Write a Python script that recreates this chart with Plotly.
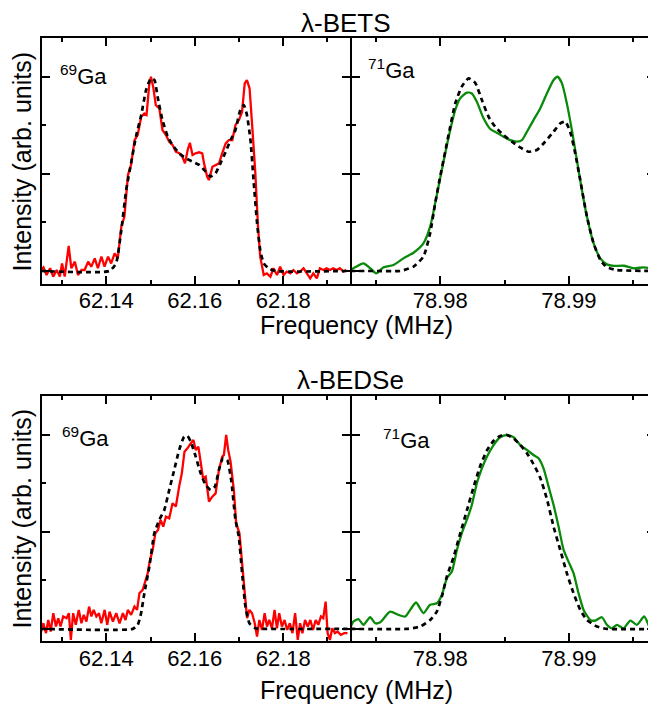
import plotly.graph_objects as go

# ---------------- data (normalised NMR intensities) ----------------
# lambda-BETS, 69Ga
bets69_f = [62.1252, 62.1258, 62.1265, 62.1273, 62.1280, 62.1288, 62.1295, 62.1300, 62.1306, 62.1315,
            62.1321, 62.1329, 62.1336, 62.1344, 62.1351, 62.1359, 62.1366, 62.1374, 62.1381, 62.1389,
            62.1396, 62.1404, 62.1411, 62.1419, 62.1426, 62.1434, 62.1441, 62.1449, 62.1456, 62.1464,
            62.1471, 62.1479, 62.1486, 62.1491, 62.1497, 62.1501, 62.1506, 62.1512, 62.1520, 62.1527,
            62.1535, 62.1542, 62.1550, 62.1557, 62.1565, 62.1572, 62.1578, 62.1584, 62.1589, 62.1595,
            62.1602, 62.1610, 62.1617, 62.1621, 62.1628, 62.1632, 62.1640, 62.1647, 62.1655, 62.1662,
            62.1670, 62.1677, 62.1685, 62.1692, 62.1700, 62.1707, 62.1713, 62.1718, 62.1724, 62.1730,
            62.1737, 62.1743, 62.1748, 62.1756, 62.1763, 62.1771, 62.1778, 62.1786, 62.1793, 62.1801,
            62.1808, 62.1816, 62.1823, 62.1831, 62.1838, 62.1846, 62.1853, 62.1861, 62.1868, 62.1876,
            62.1883, 62.1891, 62.1898, 62.1906, 62.1913, 62.1921, 62.1928, 62.1936, 62.1943]
bets69_i = [0.005, 0.019, -0.021, 0.014, -0.029, 0.005, -0.029, 0.039, -0.029, 0.129,
            0.014, 0.048, -0.021, 0.005, 0.005, 0.048, 0.022, 0.065, 0.014, 0.074,
            0.022, 0.074, 0.039, 0.091, 0.065, 0.228, 0.280, 0.494, 0.546, 0.674,
            0.700, 0.794, 0.811, 0.803, 0.957, 1.000, 0.949, 0.854, 0.837, 0.726,
            0.700, 0.666, 0.648, 0.614, 0.606, 0.588, 0.554, 0.623, 0.660, 0.597,
            0.606, 0.611, 0.606, 0.554, 0.486, 0.468, 0.537, 0.546, 0.554, 0.606,
            0.657, 0.674, 0.674, 0.751, 0.777, 0.820, 0.966, 0.983, 0.940, 0.743,
            0.503, 0.228, 0.074, -0.021, -0.012, -0.029, 0.014, -0.021, 0.022, -0.021,
            -0.003, -0.012, 0.005, -0.012, -0.003, 0.014, -0.012, -0.038, -0.012, -0.038,
            0.014, 0.005, 0.014, 0.005, 0.014, 0.005, 0.014, -0.003, 0.005]
bets69_fit_f = [62.1252, 62.1407, 62.1422, 62.1434, 62.1445, 62.1456, 62.1467, 62.1479, 62.1490, 62.1501,
                62.1509, 62.1516, 62.1527, 62.1539, 62.1550, 62.1565, 62.1580, 62.1595, 62.1610, 62.1625,
                62.1636, 62.1647, 62.1658, 62.1670, 62.1681, 62.1692, 62.1703, 62.1711, 62.1718, 62.1726,
                62.1733, 62.1741, 62.1748, 62.1756, 62.1767, 62.1782, 62.1943]
bets69_fit_i = [0.0, 0.0, 0.039, 0.211, 0.417, 0.554, 0.691, 0.803, 0.932, 0.992,
                0.983, 0.897, 0.777, 0.691, 0.648, 0.606, 0.580, 0.563, 0.546, 0.511,
                0.486, 0.503, 0.554, 0.614, 0.674, 0.726, 0.829, 0.854, 0.803, 0.674,
                0.468, 0.245, 0.108, 0.039, 0.014, 0.0, 0.0]

# lambda-BETS, 71Ga
bets71_f = [78.97300, 78.97339, 78.97404, 78.97456, 78.97503, 78.97560, 78.97637, 78.97715, 78.97793, 78.97870,
            78.97922, 78.97961, 78.98000, 78.98039, 78.98078, 78.98117, 78.98155, 78.98207, 78.98246, 78.98285,
            78.98337, 78.98389, 78.98440, 78.98492, 78.98544, 78.98596, 78.98635, 78.98674, 78.98725, 78.98777,
            78.98829, 78.98881, 78.98912, 78.98946, 78.98984, 78.99023, 78.99062, 78.99101, 78.99140, 78.99192,
            78.99244, 78.99295, 78.99347, 78.99425, 78.99503, 78.99580, 78.99632, 78.99679]
bets71_i = [0.005, 0.019, 0.039, 0.014, -0.012, 0.019, 0.031, 0.065, 0.094, 0.142,
            0.228, 0.348, 0.477, 0.606, 0.726, 0.829, 0.889, 0.918, 0.914, 0.871,
            0.786, 0.731, 0.712, 0.691, 0.674, 0.666, 0.674, 0.717, 0.777, 0.837,
            0.914, 0.983, 1.000, 0.966, 0.863, 0.726, 0.571, 0.417, 0.280, 0.142,
            0.065, 0.034, 0.026, 0.027, 0.014, 0.019, 0.014, 0.005]
bets71_fit_f = [78.97300, 78.97508, 78.97689, 78.97793, 78.97870, 78.97922, 78.97961, 78.98000, 78.98039, 78.98078,
                78.98117, 78.98168, 78.98220, 78.98272, 78.98324, 78.98376, 78.98427, 78.98492, 78.98557, 78.98622,
                78.98687, 78.98751, 78.98816, 78.98881, 78.98933, 78.98972, 78.99010, 78.99049, 78.99088, 78.99140,
                78.99192, 78.99244, 78.99295, 78.99373, 78.99679]
bets71_fit_i = [0.0, 0.0, 0.0, 0.022, 0.074, 0.194, 0.348, 0.486, 0.614, 0.743,
                0.863, 0.949, 0.992, 0.969, 0.880, 0.794, 0.743, 0.700, 0.666, 0.636,
                0.614, 0.623, 0.666, 0.717, 0.760, 0.769, 0.717, 0.606, 0.468, 0.280,
                0.142, 0.057, 0.019, 0.005, 0.0]

# lambda-BEDSe, 69Ga
bedse69_f = [62.12517, 62.12577, 62.12637, 62.12689, 62.12742, 62.12802, 62.12862, 62.12914, 62.12966, 62.13026,
             62.13101, 62.13154, 62.13199, 62.13251, 62.13311, 62.13378, 62.13438, 62.13491, 62.13551, 62.13611,
             62.13663, 62.13715, 62.13775, 62.13835, 62.13888, 62.13963, 62.14022, 62.14075, 62.14150, 62.14225,
             62.14300, 62.14375, 62.14434, 62.14487, 62.14562, 62.14637, 62.14697, 62.14749, 62.14824, 62.14884,
             62.14936, 62.14989, 62.15049, 62.15109, 62.15169, 62.15228, 62.15288, 62.15348, 62.15423, 62.15498,
             62.15573, 62.15648, 62.15708, 62.15768, 62.15835, 62.15910, 62.15970, 62.16022, 62.16082, 62.16127,
             62.16187, 62.16247, 62.16322, 62.16397, 62.16472, 62.16547, 62.16622, 62.16659, 62.16711, 62.16756,
             62.16809, 62.16884, 62.16936, 62.17011, 62.17071, 62.17131, 62.17183, 62.17236, 62.17296, 62.17356,
             62.17408, 62.17461, 62.17521, 62.17580, 62.17633, 62.17685, 62.17745, 62.17805, 62.17858, 62.17910,
             62.17970, 62.18030, 62.18090, 62.18150, 62.18209, 62.18269, 62.18329, 62.18382, 62.18434, 62.18494,
             62.18554, 62.18614, 62.18674, 62.18734, 62.18794, 62.18854, 62.18906, 62.18959, 62.19004, 62.19056,
             62.19109, 62.19169, 62.19229, 62.19303, 62.19378, 62.19453]
bedse69_i = [-0.022, 0.029, -0.022, 0.046, -0.014, 0.081, 0.012, 0.055, 0.012, 0.064,
             0.055, 0.081, -0.057, 0.081, 0.021, 0.098, 0.029, 0.072, 0.038, 0.115,
             0.064, 0.098, 0.064, 0.081, 0.029, 0.098, 0.021, 0.089, 0.038, 0.081,
             0.029, 0.081, 0.046, 0.098, 0.072, 0.115, 0.098, 0.184, 0.201, 0.253,
             0.287, 0.356, 0.407, 0.493, 0.510, 0.562, 0.527, 0.579, 0.570, 0.648,
             0.631, 0.734, 0.802, 0.914, 0.931, 0.957, 0.974, 0.923, 0.940, 0.871,
             0.777, 0.785, 0.656, 0.682, 0.699, 0.820, 0.888, 0.897, 1.000, 0.923,
             0.863, 0.716, 0.545, 0.493, 0.321, 0.184, 0.055, 0.098, 0.081, 0.029,
             -0.040, 0.046, -0.005, 0.081, 0.012, 0.046, 0.003, 0.098, 0.003, 0.081,
             0.012, 0.046, -0.005, 0.029, -0.022, 0.081, -0.057, 0.029, -0.022, 0.046,
             0.012, 0.046, -0.005, 0.046, 0.021, 0.064, 0.055, 0.141, -0.022, -0.057,
             0.003, -0.022, -0.014, -0.031, -0.022, -0.022]
bedse69_fit_f = [62.12517, 62.14599, 62.14712, 62.14787, 62.14861, 62.14974, 62.15086, 62.15198, 62.15311, 62.15423,
                 62.15536, 62.15648, 62.15760, 62.15835, 62.15910, 62.16022, 62.16135, 62.16247, 62.16360, 62.16457,
                 62.16547, 62.16637, 62.16734, 62.16824, 62.16921, 62.16996, 62.17071, 62.17146, 62.17236, 62.17371,
                 62.17596, 62.19453]
bedse69_fit_i = [0.0, 0.0, 0.021, 0.081, 0.184, 0.321, 0.493, 0.562, 0.613, 0.716,
                 0.820, 0.923, 0.991, 0.995, 0.966, 0.888, 0.802, 0.742, 0.716, 0.734,
                 0.820, 0.880, 0.871, 0.768, 0.562, 0.476, 0.287, 0.115, 0.029, 0.003,
                 0.0, 0.0]

# lambda-BEDSe, 71Ga
bedse71_f = [78.97300, 78.97326, 78.97365, 78.97404, 78.97456, 78.97495, 78.97534, 78.97611, 78.97676, 78.97728,
             78.97767, 78.97813, 78.97870, 78.97922, 78.97974, 78.98013, 78.98052, 78.98091, 78.98130, 78.98168,
             78.98207, 78.98246, 78.98285, 78.98324, 78.98363, 78.98415, 78.98466, 78.98518, 78.98570, 78.98622,
             78.98674, 78.98725, 78.98764, 78.98803, 78.98842, 78.98881, 78.98920, 78.98959, 78.98997, 78.99036,
             78.99075, 78.99114, 78.99166, 78.99205, 78.99257, 78.99295, 78.99334, 78.99373, 78.99425, 78.99477,
             78.99528, 78.99585, 78.99632, 78.99679]
bedse71_i = [0.003, 0.038, 0.050, 0.021, 0.060, 0.029, 0.034, 0.089, 0.072, 0.064,
             0.098, 0.136, 0.081, 0.124, 0.132, 0.175, 0.261, 0.296, 0.407, 0.493,
             0.562, 0.639, 0.751, 0.828, 0.888, 0.948, 0.988, 1.000, 0.988, 0.948,
             0.923, 0.897, 0.880, 0.828, 0.734, 0.639, 0.527, 0.407, 0.347, 0.287,
             0.184, 0.098, 0.046, 0.043, 0.060, 0.021, 0.003, 0.021, 0.003, 0.043,
             0.021, 0.064, 0.003, -0.019]
bedse71_fit_f = [78.97300, 78.97741, 78.97845, 78.97922, 78.97974, 78.98013, 78.98052, 78.98104, 78.98155, 78.98207,
                 78.98259, 78.98311, 78.98363, 78.98415, 78.98466, 78.98518, 78.98570, 78.98622, 78.98674, 78.98725,
                 78.98777, 78.98829, 78.98881, 78.98933, 78.98984, 78.99036, 78.99088, 78.99140, 78.99218, 78.99295,
                 78.99679]
bedse71_fit_i = [0.0, 0.0, 0.012, 0.046, 0.089, 0.167, 0.270, 0.370, 0.490, 0.610,
                 0.730, 0.840, 0.920, 0.970, 0.995, 1.000, 0.983, 0.948, 0.906, 0.850,
                 0.780, 0.670, 0.527, 0.407, 0.287, 0.184, 0.098, 0.046, 0.012, 0.0,
                 0.0]

titles = ["λ-BETS", "λ-BEDSe"]
isotopes = ["<sup>69</sup>Ga", "<sup>71</sup>Ga"]
x_title = "Frequency (MHz)"
y_title = "Intensity (arb. units)"

# ---------------- styling ----------------
PAGE_OFF = 8            # default body margin of the html page
W, H = 656 - PAGE_OFF, 706 - PAGE_OFF
FONT = "Liberation Sans, Arial, Helvetica, sans-serif"
RED = "#ff0000"
GREEN = "#0a8a0a"


def px(x):   # page pixel -> paper
    return (x - PAGE_OFF) / W


def py(y):
    return 1 - (y - PAGE_OFF) / H


fig = go.Figure()

panels = [
    (bets69_f, bets69_i, bets69_fit_f, bets69_fit_i, "x", "y", RED, "linear"),
    (bets71_f, bets71_i, bets71_fit_f, bets71_fit_i, "x2", "y2", GREEN, "spline"),
    (bedse69_f, bedse69_i, bedse69_fit_f, bedse69_fit_i, "x3", "y3", RED, "linear"),
    (bedse71_f, bedse71_i, bedse71_fit_f, bedse71_fit_i, "x4", "y4", GREEN, "spline"),
]
for f, i, ff, fi, xa, ya, col, shape in panels:
    fig.add_trace(go.Scatter(x=f, y=i, mode="lines", xaxis=xa, yaxis=ya,
                             line=dict(color=col, width=2.3, shape=shape, smoothing=0.6),
                             showlegend=False, hoverinfo="skip"))
    fig.add_trace(go.Scatter(x=ff, y=fi, mode="lines", xaxis=xa, yaxis=ya,
                             line=dict(color="black", width=2.7, dash="5px,4px", shape="spline", smoothing=0.5),
                             showlegend=False, hoverinfo="skip"))

common = dict(showline=True, linecolor="black", linewidth=2, mirror="allticks",
              ticks="inside", ticklen=8, tickwidth=2, tickcolor="black",
              showgrid=False, zeroline=False)
tickfont = dict(family=FONT, size=22, color="black")

# page-pixel positions of the data areas (inside the frame lines)
xl = [41.7, 350.0]
xr = [352.0, 654.5]
row_top = [38.3, 284.0]
row_bot = [396.0, 641.3]


def xaxis_left(anchor):
    return dict(common, domain=[px(xl[0]), px(xl[1])], anchor=anchor,
                range=[62.1254, 62.1951], tick0=62.14, dtick=0.02, tickformat=".2f",
                tickfont=tickfont, ticklabelstandoff=-4,
                minor=dict(ticks="inside", ticklen=4, tickwidth=2, tickcolor="black",
                           tick0=62.13, dtick=0.01, showgrid=False))


def xaxis_right(anchor):
    return dict(common, domain=[px(xr[0]), px(xr[1])], anchor=anchor,
                range=[78.97315, 78.99665], tick0=78.98, dtick=0.01, tickformat=".2f",
                tickfont=tickfont, ticklabelstandoff=-4,
                minor=dict(ticks="inside", ticklen=4, tickwidth=2, tickcolor="black",
                           tick0=78.975, dtick=0.005, showgrid=False))


def yaxis(anchor, row, rng):
    return dict(common, domain=[py(row[1]), py(row[0])], anchor=anchor, range=rng,
                tick0=0, dtick=0.5, showticklabels=False,
                minor=dict(ticks="inside", ticklen=4, tickwidth=2, tickcolor="black",
                           tick0=0, dtick=0.25, showgrid=False))


fig.update_layout(
    width=W, height=H,
    margin=dict(l=0, r=0, t=0, b=0),
    paper_bgcolor="white", plot_bgcolor="white",
    font=dict(family=FONT, color="black", size=22),
    xaxis=xaxis_left("y"),
    xaxis2=xaxis_right("y2"),
    xaxis3=xaxis_left("y3"),
    xaxis4=xaxis_right("y4"),
    yaxis=yaxis("x", row_top, [-0.067, 1.198]),
    yaxis2=yaxis("x2", row_top, [-0.067, 1.198]),
    yaxis3=yaxis("x3", row_bot, [-0.064, 1.201]),
    yaxis4=yaxis("x4", row_bot, [-0.064, 1.201]),
)

ann = []
# panel titles
ann.append(dict(text=titles[0], x=px(346), y=py(23), font=dict(size=26)))
ann.append(dict(text=titles[1], x=px(350), y=py(380), font=dict(size=26)))
# x-axis titles
ann.append(dict(text=x_title, x=px(356), y=py(325), font=dict(size=25)))
ann.append(dict(text=x_title, x=px(356), y=py(690), font=dict(size=25)))
# y-axis titles
ann.append(dict(text=y_title, x=px(21.5), y=py(162), textangle=-90, font=dict(size=25)))
ann.append(dict(text=y_title, x=px(21.5), y=py(519), textangle=-90, font=dict(size=25)))
# isotope labels
ann.append(dict(text=isotopes[0], x=px(59), y=py(75), xanchor="left", font=dict(size=22)))
ann.append(dict(text=isotopes[1], x=px(367), y=py(69), xanchor="left", font=dict(size=22)))
ann.append(dict(text=isotopes[0], x=px(61), y=py(437), xanchor="left", font=dict(size=22)))
ann.append(dict(text=isotopes[1], x=px(382), y=py(439), xanchor="left", font=dict(size=22)))

for a in ann:
    a.setdefault("xanchor", "center")
    a.update(xref="paper", yref="paper", yanchor="middle", showarrow=False, borderpad=0)
    a["font"] = dict(family=FONT, color="black", size=a["font"]["size"])
fig.update_layout(annotations=ann)

fig.write_html("out.html")
